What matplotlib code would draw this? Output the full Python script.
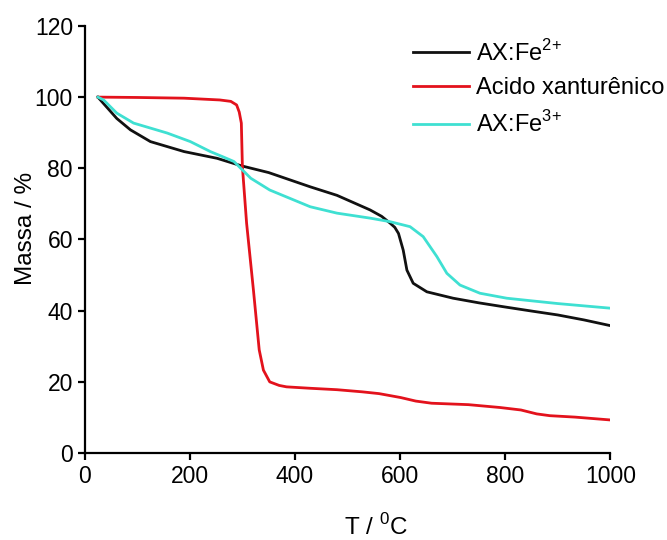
"""TGA curves: xanthurenic acid and its Fe(II)/Fe(III) complexes."""

import matplotlib

matplotlib.use("Agg")
import matplotlib.pyplot as plt

plt.rcParams["font.family"] = ["Liberation Sans", "DejaVu Sans"]
plt.rcParams["mathtext.fontset"] = "custom"
plt.rcParams["mathtext.rm"] = "Liberation Sans"

# AX:Fe2+
fe2_t = [25, 40, 61, 87, 125, 189, 252, 298, 350, 429, 480, 543, 565, 581, 590,
         597, 606, 613, 625, 651, 701, 750, 797, 850, 900, 950, 1000]
fe2_m = [100, 97.5, 94, 90.8, 87.5, 84.7, 82.8, 80.7, 78.8, 74.8, 72.4, 68.3,
         66.5, 64.6, 63.4, 61.7, 57, 51.4, 47.7, 45.3, 43.5, 42.2, 41.1, 39.9,
         38.8, 37.4, 35.8]

# Acido xanturenico
ax_t = [25, 100, 189, 257, 278, 289, 294, 298, 300, 308, 321, 332, 340, 352, 370,
        384, 429, 480, 528, 560, 601, 630, 660, 730, 790, 830, 860, 885, 933, 1000]
ax_m = [100, 99.9, 99.7, 99.2, 98.8, 97.8, 95.8, 92.7, 80.5, 64.6, 45.8, 29,
        23.3, 20, 19, 18.6, 18.2, 17.8, 17.2, 16.7, 15.6, 14.6, 14, 13.6, 12.8,
        12.1, 11, 10.5, 10.1, 9.3]

# AX:Fe3+
fe3_t = [25, 36, 61, 93, 157, 201, 239, 265, 284, 316, 352, 429, 480, 543, 581,
         619, 644, 670, 689, 714, 752, 803, 900, 1000]
fe3_m = [100, 99.2, 95.5, 92.7, 89.9, 87.5, 84.7, 83.1, 81.9, 77.2, 73.9, 69.2,
         67.4, 66, 65, 63.6, 60.8, 55.2, 50.5, 47.2, 44.9, 43.5, 42, 40.7]

fig = plt.figure(figsize=(6.67, 5.4), dpi=100)
ax = fig.add_axes([0.127, 0.161, 0.788, 0.791])

ax.plot(fe2_t, fe2_m, color="#111111", lw=2.0, label="AX:Fe$^{\\mathregular{2{+}}}$")
ax.plot(ax_t, ax_m, color="#e3121c", lw=2.0, label="Acido xanturênico")
ax.plot(fe3_t, fe3_m, color="#3fe0d2", lw=2.0, label="AX:Fe$^{\\mathregular{3{+}}}$")

ax.set_xlim(0, 1000)
ax.set_ylim(0, 120)
ax.set_xticks([0, 200, 400, 600, 800, 1000])
ax.set_yticks([0, 20, 40, 60, 80, 100, 120])
ax.spines["top"].set_visible(False)
ax.spines["right"].set_visible(False)
for side in ("left", "bottom"):
    ax.spines[side].set_linewidth(1.6)
ax.tick_params(direction="out", length=5, width=1.6, labelsize=16.5)

ax.set_xlabel("T / $^{\\mathregular{0}}$C", fontsize=17.5)
ax.xaxis.set_label_coords(0.554, -0.143)
ax.set_ylabel("Massa / %", fontsize=17.5)
ax.yaxis.set_label_coords(-0.09, 0.525)

ax.legend(loc="upper left", bbox_to_anchor=(0.625, 0.968), frameon=False,
          borderpad=0, borderaxespad=0, fontsize=17, handlelength=2.35,
          handletextpad=0.3, labelspacing=0.5)

fig.savefig("out.png", dpi=100)
